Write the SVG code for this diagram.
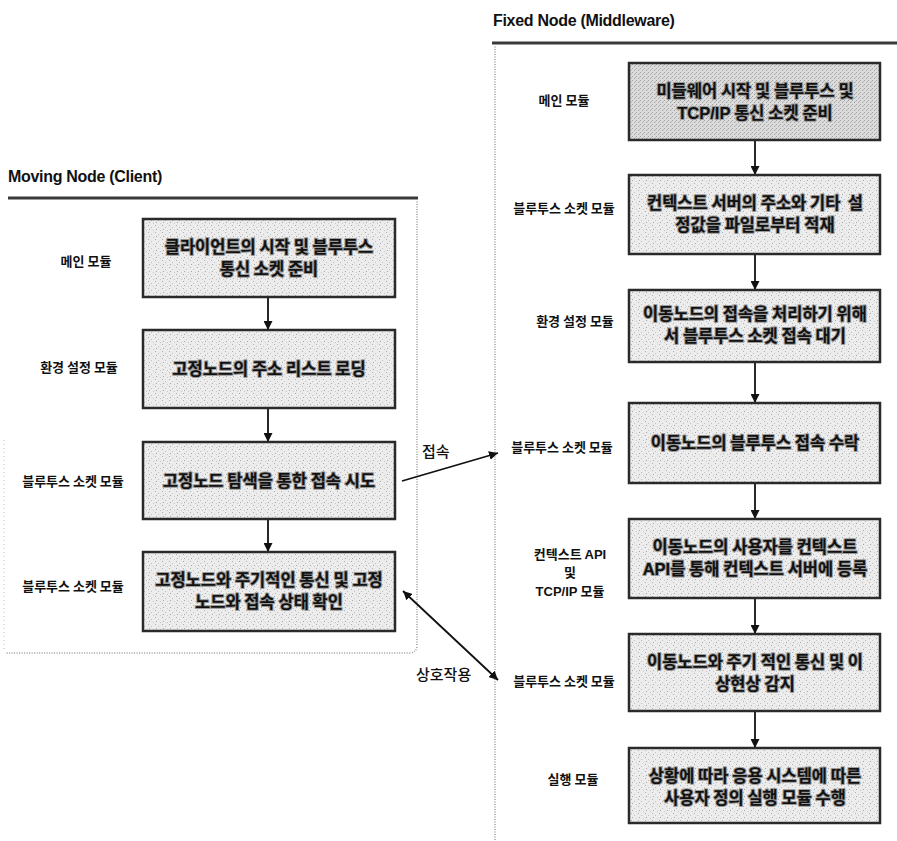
<svg xmlns="http://www.w3.org/2000/svg" width="897" height="841" viewBox="0 0 897 841">
<style>
.hdr{font-family:"Liberation Sans",Arial,sans-serif;font-weight:bold;font-size:16px;fill:#111;letter-spacing:-0.3px}
.box{fill:url(#stip);stroke:#2a2a2a;stroke-width:2.5}
.box.dark{fill:url(#stipd)}
.bt{font-family:"Noto Sans CJK KR","Noto Sans",sans-serif;font-weight:bold;font-size:16.5px;fill:#111;text-anchor:middle;paint-order:stroke;stroke:#9a9a9a;stroke-width:2px;stroke-linejoin:round}
.lat{font-family:"Liberation Sans",Arial,sans-serif;font-weight:900}
.lb{font-family:"Noto Sans CJK KR","Noto Sans",sans-serif;font-weight:bold;font-size:13px;fill:#111;text-anchor:middle}
.el{font-family:"Noto Sans CJK KR","Noto Sans",sans-serif;font-weight:500;font-size:15px;fill:#111}
.hl{stroke:#3a3a3a;stroke-width:3;fill:none}
.dot{stroke:#9a9a9a;stroke-width:1.5;stroke-dasharray:1 1.5;fill:none}
.faint{stroke:#c8c8c8;stroke-width:1.2;stroke-dasharray:1 3;fill:none}
.conn{stroke:#111;stroke-width:1.8;fill:none}
</style>
<defs>
<pattern id="stip" width="7" height="7" patternUnits="userSpaceOnUse">
<rect width="7" height="7" fill="#ececec"/>
<rect x="1" y="1" width="1" height="1" fill="#b0b0b0"/>
<rect x="4" y="3" width="1" height="1" fill="#c0c0c0"/>
<rect x="2" y="5" width="1" height="1" fill="#a8a8a8"/>
<rect x="6" y="6" width="1" height="1" fill="#c8c8c8"/>
</pattern>
<pattern id="stipd" width="4" height="4" patternUnits="userSpaceOnUse">
<rect width="4" height="4" fill="#dcdcdc"/>
<rect x="0" y="0" width="1" height="1" fill="#a0a0a0"/>
<rect x="2" y="2" width="1" height="1" fill="#a0a0a0"/>
<rect x="3" y="1" width="1" height="1" fill="#b8b8b8"/>
</pattern>
<marker id="ah" viewBox="0 0 10 10" refX="10" refY="5" markerWidth="9" markerHeight="9" markerUnits="userSpaceOnUse" orient="auto-start-reverse">
<path d="M0,0 L10,5 L0,10 z" fill="#111"/>
</marker>
</defs>

<g id="containers">
<text class="hdr" x="8" y="182">Moving Node (Client)</text>
<line class="hl" x1="8" y1="198" x2="418" y2="198"/>
<path class="dot" d="M417,199 L417,645 Q417,653 409,653 L5,653"/>
<line class="faint" x1="4" y1="440" x2="4" y2="650"/>
<text class="hdr" x="493" y="26">Fixed Node (Middleware)</text>
<line class="hl" x1="492" y1="43" x2="897" y2="43"/>
<line class="dot" x1="495" y1="44" x2="495" y2="841"/>
</g>

<g id="connectors">
<line class="conn" x1="268" y1="298" x2="268" y2="330" marker-end="url(#ah)"/>
<line class="conn" x1="268" y1="409" x2="268" y2="442" marker-end="url(#ah)"/>
<line class="conn" x1="268" y1="520" x2="268" y2="552" marker-end="url(#ah)"/>
<line class="conn" x1="755" y1="141" x2="755" y2="175" marker-end="url(#ah)"/>
<line class="conn" x1="755" y1="255" x2="755" y2="290" marker-end="url(#ah)"/>
<line class="conn" x1="755" y1="363" x2="755" y2="403" marker-end="url(#ah)"/>
<line class="conn" x1="755" y1="484" x2="755" y2="519" marker-end="url(#ah)"/>
<line class="conn" x1="755" y1="599" x2="755" y2="634" marker-end="url(#ah)"/>
<line class="conn" x1="755" y1="712" x2="755" y2="748" marker-end="url(#ah)"/>
<line class="conn" x1="402" y1="481" x2="498" y2="453" marker-end="url(#ah)"/>
<line class="conn" x1="403" y1="591" x2="498" y2="680" marker-start="url(#ah)" marker-end="url(#ah)"/>
<text class="el" x="422" y="457">접속</text>
<text class="el" x="416" y="680">상호작용</text>
</g>

<g id="L1">
<rect class="box" x="143" y="219" width="252" height="78"/>
<text class="bt" x="269" y="253">클라이언트의 시작 및 블루투스</text>
<text class="bt" x="269" y="275">통신 소켓 준비</text>
<text class="lb" x="86" y="266">메인 모듈</text>
</g>
<g id="L2">
<rect class="box" x="143" y="330" width="252" height="78"/>
<text class="bt" x="269" y="375">고정노드의 주소 리스트 로딩</text>
<text class="lb" x="79" y="372">환경 설정 모듈</text>
</g>
<g id="L3">
<rect class="box" x="143" y="442" width="252" height="77"/>
<text class="bt" x="269" y="487">고정노드 탐색을 통한 접속 시도</text>
<text class="lb" x="73" y="486">블루투스 소켓 모듈</text>
</g>
<g id="L4">
<rect class="box" x="143" y="552" width="252" height="79"/>
<text class="bt" x="269" y="586">고정노드와 주기적인 통신 및 고정</text>
<text class="bt" x="269" y="608">노드와 접속 상태 확인</text>
<text class="lb" x="73" y="591">블루투스 소켓 모듈</text>
</g>

<g id="R1">
<rect class="box dark" x="629" y="63" width="251" height="77"/>
<text class="bt" x="755" y="97">미들웨어 시작 및 블루투스 및</text>
<text class="bt" x="755" y="119"><tspan class="lat">TCP/IP</tspan> 통신 소켓 준비</text>
<text class="lb" x="564" y="105">메인 모듈</text>
</g>
<g id="R2">
<rect class="box" x="629" y="175" width="251" height="79"/>
<text class="bt" x="755" y="209">컨텍스트 서버의 주소와 기타&#160; 설</text>
<text class="bt" x="755" y="231">정값을 파일로부터 적재</text>
<text class="lb" x="564" y="213">블루투스 소켓 모듈</text>
</g>
<g id="R3">
<rect class="box" x="629" y="290" width="251" height="72"/>
<text class="bt" x="755" y="320">이동노드의 접속을 처리하기 위해</text>
<text class="bt" x="755" y="342">서 블루투스 소켓 접속 대기</text>
<text class="lb" x="575" y="326">환경 설정 모듈</text>
</g>
<g id="R4">
<rect class="box" x="629" y="403" width="251" height="80"/>
<text class="bt" x="755" y="449">이동노드의 블루투스 접속 수락</text>
<text class="lb" x="562" y="452">블루투스 소켓 모듈</text>
</g>
<g id="R5">
<rect class="box" x="629" y="519" width="251" height="79"/>
<text class="bt" x="755" y="553">이동노드의 사용자를 컨텍스트</text>
<text class="bt" x="755" y="575"><tspan class="lat">API</tspan>를 통해 컨텍스트 서버에 등록</text>
<text class="lb" x="570" y="559">컨텍스트 <tspan class="lat">API</tspan></text>
<text class="lb" x="570" y="577">및</text>
<text class="lb" x="570" y="596"><tspan class="lat">TCP/IP</tspan> 모듈</text>
</g>
<g id="R6">
<rect class="box" x="629" y="634" width="251" height="77"/>
<text class="bt" x="755" y="668">이동노드와 주기 적인 통신 및 이</text>
<text class="bt" x="755" y="690">상현상 감지</text>
<text class="lb" x="564" y="686">블루투스 소켓 모듈</text>
</g>
<g id="R7">
<rect class="box" x="629" y="748" width="251" height="75"/>
<text class="bt" x="755" y="782">상황에 따라 응용 시스템에 따른</text>
<text class="bt" x="755" y="804">사용자 정의 실행 모듈 수행</text>
<text class="lb" x="573" y="784">실행 모듈</text>
</g>
</svg>
